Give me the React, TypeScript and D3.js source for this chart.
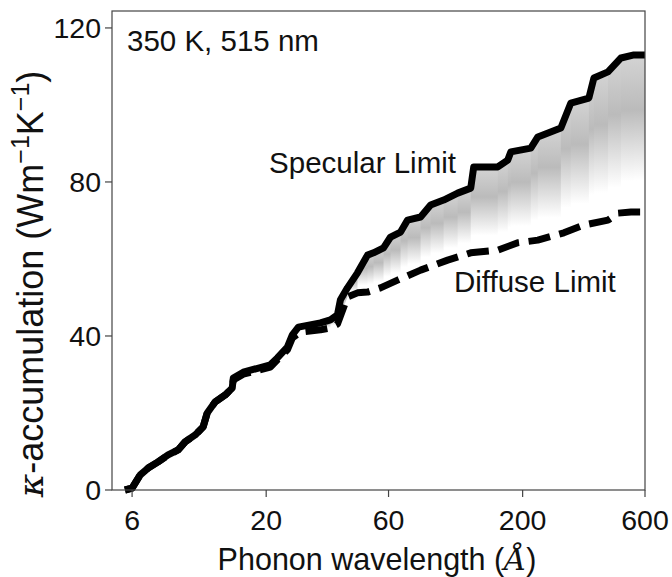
import React from "react";
import * as d3 from "d3";

const specularX = [5.63, 6.0, 6.45, 6.93, 7.58, 8.29, 9.07, 9.66, 10.57, 11.36, 11.78, 12.66, 13.85, 14.75, 14.89, 16.28, 20.76, 22.11, 24.19, 25.3, 26.7, 32.56, 35.61, 37.93, 38.96, 41.49, 45.4, 49.68, 52.44, 57.36, 61.09, 66.84, 71.18, 80.01, 87.53, 98.38, 111.6, 125.5, 128.9, 160, 175, 179.8, 215.2, 229.2, 281.9, 308.3, 362.5, 379.2, 430.3, 483.7, 543.5, 600];
const specularY = [0, 0.5, 3.9, 5.7, 7.3, 9.1, 10.4, 12.5, 14.3, 16.4, 20.0, 22.9, 24.7, 26.5, 29.1, 30.6, 32.5, 34.3, 37.1, 40.3, 42.3, 43.4, 44.2, 45.5, 49.4, 52.5, 56.4, 61.0, 61.6, 62.9, 65.7, 67.0, 70.1, 70.9, 74.0, 75.3, 77.1, 78.4, 83.9, 83.9, 85.7, 87.8, 88.8, 91.7, 94.0, 100.5, 101.8, 107.0, 108.6, 112.2, 113.0, 113.0];

const diffuseX = [5.63, 6.0, 6.45, 6.93, 7.58, 8.29, 9.07, 9.66, 10.57, 11.36, 11.78, 12.66, 13.85, 14.75, 14.89, 16.28, 20.76, 22.11, 24.19, 25.3, 27.19, 32.56, 35.61, 37.93, 40.03, 41.49, 45.4, 49.68, 55.83, 65.06, 80.01, 102.0, 125.5, 160, 191.4, 229.2, 289.6, 346.6, 430.3, 470.8, 529, 600];
const diffuseY = [0, 0.5, 3.9, 5.7, 7.3, 9.1, 10.4, 12.5, 14.3, 16.4, 20.0, 22.9, 24.7, 26.5, 28.6, 30.1, 31.9, 33.8, 36.4, 39.5, 41.0, 41.6, 42.1, 43.1, 47.3, 50.1, 51.2, 51.4, 52.5, 54.5, 57.1, 59.7, 61.6, 62.3, 64.2, 64.9, 66.8, 68.8, 70.1, 71.9, 72.2, 72.2];

const xTicks = [6, 20, 60, 200, 600];
const yTicks = [0, 40, 80, 120];

const W = 672, H = 577;
const m = { left: 112, top: 11, right: 645, bottom: 490 };
const FONT = "'Liberation Sans', Arial, Helvetica, sans-serif";

export default function App() {
  const x = d3.scaleLog().domain([5.01, 600]).range([m.left, m.right]);
  const y = d3.scaleLinear().domain([0, 124.4]).range([m.bottom, m.top]);

  const spec: [number, number][] = specularX.map((v, i) => [v, specularY[i]]);
  const diff: [number, number][] = diffuseX.map((v, i) => [v, diffuseY[i]]);

  const line = d3.line<[number, number]>().x(d => x(d[0])).y(d => y(d[1]));
  const clipPoly = [...spec, ...diff.slice().reverse()];
  const clipD = line(clipPoly) + "Z";

  const diffAt = (v: number) => {
    const lx = Math.log(v);
    for (let i = 0; i < diff.length - 1; i++) {
      const a = Math.log(diff[i][0]), b = Math.log(diff[i + 1][0]);
      if (lx >= a && lx <= b) {
        const t = (lx - a) / (b - a);
        return diff[i][1] + t * (diff[i + 1][1] - diff[i][1]);
      }
    }
    return diff[diff.length - 1][1];
  };

  const strips = [] as { x0: number; x1: number; top: number; bot: number }[];
  for (let i = 0; i < spec.length - 1; i++) {
    if (spec[i][0] < 30) continue;
    const x0 = x(spec[i][0]);
    const x1 = x(spec[i + 1][0]);
    if (x1 - x0 < 0.5) continue;
    const top = y(Math.max(spec[i][1], spec[i + 1][1]));
    const bot = y(Math.min(diffAt(spec[i][0]), diffAt(spec[i + 1][0])));
    strips.push({ x0, x1, top, bot });
  }

  const axisColor = "#444";

  return (
    <svg width={W} height={H} style={{ position: "fixed", left: 0, top: 0, background: "#fff" }} fontFamily={FONT}>
      <defs>
        <clipPath id="between">
          <path d={clipD} />
        </clipPath>
        <linearGradient id="strip" x1="0" y1="0" x2="0" y2="1">
          <stop offset="0" stopColor="#d4d4d4" />
          <stop offset="0.35" stopColor="#bbbbbb" />
          <stop offset="0.8" stopColor="#ffffff" />
          <stop offset="1" stopColor="#ffffff" />
        </linearGradient>
      </defs>
      <rect x={0} y={0} width={W} height={H} fill="#fff" />
      <g clipPath="url(#between)">
        {strips.map((s, i) => (
          <rect key={i} x={s.x0} y={s.top} width={s.x1 - s.x0 + 0.6} height={Math.max(1, s.bot - s.top)} fill="url(#strip)" />
        ))}
      </g>
      <path d={line(diff) || ""} fill="none" stroke="#000" strokeWidth={7} strokeDasharray="22,9.6" strokeLinejoin="round" />
      <path d={line(spec) || ""} fill="none" stroke="#000" strokeWidth={7} strokeLinejoin="round" />

      <rect x={m.left} y={m.top} width={m.right - m.left} height={m.bottom - m.top} fill="none" stroke={axisColor} strokeWidth={1.2} />

      {xTicks.map(t => (
        <g key={"x" + t}>
          <line x1={x(t)} x2={x(t)} y1={m.bottom} y2={m.bottom + 7} stroke={axisColor} strokeWidth={1.2} />
          <text x={x(t)} y={530} textAnchor="middle" fontSize={28.5} fill="#111">{t}</text>
        </g>
      ))}
      {yTicks.map(t => (
        <g key={"y" + t}>
          <line x1={m.left - 7} x2={m.left} y1={y(t)} y2={y(t)} stroke={axisColor} strokeWidth={1.2} />
          <text x={101} y={y(t) + 10} textAnchor="end" fontSize={28.5} fill="#111">{t}</text>
        </g>
      ))}

      <text x={377} y={570} textAnchor="middle" fontSize={30.5} fill="#111">
        Phonon wavelength (<tspan fontFamily="'DejaVu Serif', serif" fontStyle="italic">Å</tspan>)
      </text>

      <text transform={`translate(43, 284) rotate(-90)`} textAnchor="middle" fontSize={36} fill="#111">
        <tspan fontFamily="'DejaVu Serif', serif" fontStyle="italic">κ</tspan>-accumulation (Wm<tspan dy={-14} fontSize={25}>−1</tspan><tspan dy={14}>K</tspan><tspan dy={-14} fontSize={25}>−1</tspan><tspan dy={14}>)</tspan>
      </text>

      <text x={127} y={51} fontSize={29.5} fill="#111">350 K, 515 nm</text>
      <text x={456} y={173} textAnchor="end" fontSize={29.5} fill="#111">Specular Limit</text>
      <text x={454} y={292} fontSize={29.5} fill="#111">Diffuse Limit</text>
    </svg>
  );
}
